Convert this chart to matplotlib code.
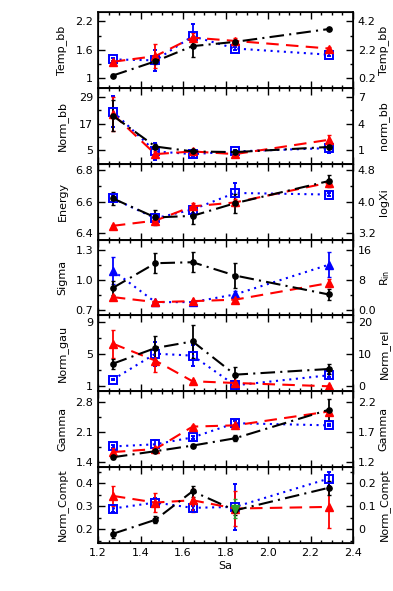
import matplotlib
matplotlib.use("Agg")
import matplotlib.pyplot as plt
from matplotlib.ticker import FixedLocator, AutoMinorLocator, MultipleLocator

plt.rcParams["font.family"] = ["DejaVu Sans"]
plt.rcParams["font.size"] = 8

sa = [1.27, 1.47, 1.645, 1.845, 2.285]

# Temp_bb
temp_black = [1.06, 1.36, 1.68, 1.77, 2.04]
temp_black_err = [0.03, 0.06, 0.22, 0.04, 0.03]
temp_red = [1.35, 1.47, 1.86, 1.79, 1.63]
temp_red_err = [0.03, 0.25, 0.10, 0.06, 0.03]
temp_blue = [1.40, 1.38, 1.89, 1.63, 1.50]
temp_blue_err = [0.03, 0.22, 0.25, 0.03, 0.03]

# Norm_bb
nbb_black = [20.5, 6.7, 4.5, 4.2, 6.5]
nbb_black_err = [7.0, 1.0, 0.5, 0.5, 1.0]
nbb_red = [21.2, 3.3, 4.5, 3.3, 9.7]
nbb_red_err = [7.5, 1.5, 0.8, 0.8, 2.0]
nbb_blue = [22.4, 4.5, 3.3, 4.5, 6.0]
nbb_blue_err = [7.0, 4.0, 0.8, 0.8, 2.0]

# Energy
en_black = [6.62, 6.50, 6.51, 6.59, 6.73]
en_black_err = [0.04, 0.05, 0.05, 0.06, 0.04]
en_red = [6.447, 6.48, 6.57, 6.595, 6.72]
en_red_err = [0.005, 0.02, 0.02, 0.02, 0.02]
en_blue = [6.62, 6.495, 6.55, 6.655, 6.645]
en_blue_err = [0.02, 0.02, 0.02, 0.06, 0.01]

# Sigma
sig_black = [0.92, 1.17, 1.18, 1.045, 0.853]
sig_black_err = [0.07, 0.10, 0.10, 0.13, 0.06]
sig_red = [0.826, 0.775, 0.785, 0.80, 0.968]
sig_red_err = [0.01, 0.01, 0.01, 0.01, 0.04]
sig_blue = [1.096, 0.775, 0.775, 0.853, 1.154]
sig_blue_err = [0.14, 0.01, 0.01, 0.03, 0.125]

# Norm_gau
ng_black = [3.82, 5.76, 6.58, 2.46, 3.16]
ng_black_err = [0.6, 1.45, 2.0, 0.93, 0.6]
ng_red = [6.3, 4.2, 1.64, 1.43, 1.02]
ng_red_err = [1.75, 1.45, 0.1, 0.3, 0.1]
ng_blue = [1.85, 5.06, 4.82, 1.14, 2.38]
ng_blue_err = [0.1, 1.5, 1.3, 0.2, 0.2]

# Gamma
gam_black = [1.52, 1.66, 1.79, 1.96, 2.62]
gam_black_err = [0.03, 0.03, 0.04, 0.07, 0.25]
gam_red = [1.64, 1.71, 2.23, 2.26, 2.58]
gam_red_err = [0.10, 0.04, 0.04, 0.04, 0.05]
gam_blue = [1.77, 1.82, 1.98, 2.31, 2.26]
gam_blue_err = [0.03, 0.10, 0.04, 0.04, 0.02]

# Norm_Compt
nc_black = [0.18, 0.241, 0.365, 0.282, 0.38]
nc_black_err = [0.02, 0.015, 0.025, 0.02, 0.03]
nc_red = [0.345, 0.316, 0.326, 0.29, 0.297]
nc_red_err = [0.045, 0.04, 0.05, 0.077, 0.09]
nc_blue = [0.29, 0.316, 0.293, 0.297, 0.42]
nc_blue_err = [0.015, 0.02, 0.01, 0.10, 0.03]
nc_green_x = [1.845]
nc_green = [0.29]
nc_green_err = [0.04]

# panel settings: left label, right label, ylim, left ticks, tick labels left / right
panels = [
    ("Temp_bb", "Temp_bb", (0.8, 2.4), [1.0, 1.6, 2.2], ["1", "1.6", "2.2"], ["0.2", "2.2", "4.2"],
     (temp_black, temp_black_err), (temp_red, temp_red_err), (temp_blue, temp_blue_err), "s"),
    ("Norm_bb", "norm_bb", (-1, 33), [5, 17, 29], ["5", "17", "29"], ["1", "4", "7"],
     (nbb_black, nbb_black_err), (nbb_red, nbb_red_err), (nbb_blue, nbb_blue_err), "s"),
    ("Energy", "logXi", (6.36, 6.84), [6.4, 6.6, 6.8], ["6.4", "6.6", "6.8"], ["3.2", "4.0", "4.8"],
     (en_black, en_black_err), (en_red, en_red_err), (en_blue, en_blue_err), "s"),
    ("Sigma", "R$_{\\rm in}$", (0.64, 1.41), [0.7, 1.0, 1.3], ["0.7", "1.0", "1.3"], ["0.0", "8", "16"],
     (sig_black, sig_black_err), (sig_red, sig_red_err), (sig_blue, sig_blue_err), "^"),
    ("Norm_gau", "Norm_rel", (0.4, 9.8), [1, 5, 9], ["1", "5", "9"], ["0", "10", "20"],
     (ng_black, ng_black_err), (ng_red, ng_red_err), (ng_blue, ng_blue_err), "s"),
    ("Gamma", "Gamma", (1.29, 3.05), [1.4, 2.1, 2.8], ["1.4", "2.1", "2.8"], ["1.2", "1.7", "2.2"],
     (gam_black, gam_black_err), (gam_red, gam_red_err), (gam_blue, gam_blue_err), "s"),
    ("Norm_Compt", "Norm_Compt", (0.14, 0.47), [0.2, 0.3, 0.4], ["0.2", "0.3", "0.4"], ["0", "0.1", "0.2"],
     (nc_black, nc_black_err), (nc_red, nc_red_err), (nc_blue, nc_blue_err), "s"),
]

fig = plt.figure(figsize=(3.93, 5.91), dpi=100)
left, right = 98 / 393, 353 / 393
top, bottom = 1 - 12 / 591, 1 - 543 / 591
h = (top - bottom) / len(panels)

for i, (lab, rlab, ylim, ticks, tlabs, rtlabs, blk, red, blu, bmark) in enumerate(panels):
    ax = fig.add_axes([left, top - (i + 1) * h, right - left, h])
    eb = dict(elinewidth=1.3, capsize=1.5, capthick=1.0)
    if bmark == "s":
        ax.errorbar(sa, blu[0], yerr=blu[1], color="blue", ls=(0, (1, 2.2)), lw=1.5,
                    marker="s", ms=5.5, mfc="none", mec="blue", mew=1.4, **eb)
    else:
        ax.errorbar(sa, blu[0], yerr=blu[1], color="blue", ls=(0, (1, 2.2)), lw=1.5,
                    marker="^", ms=6, mfc="blue", mec="blue", **eb)
    ax.errorbar(sa, red[0], yerr=red[1], color="red", ls=(0, (6, 3.5)), lw=1.5,
                marker="^", ms=6, mfc="red", mec="red", **eb)
    ax.errorbar(sa, blk[0], yerr=blk[1], color="black", ls=(0, (7, 2.5, 1, 2.5)), lw=1.5,
                marker="o", ms=3.8, mfc="black", mec="black", **eb)
    if i == len(panels) - 1:
        ax.errorbar(nc_green_x, nc_green, yerr=nc_green_err, color="#2ca02c", ls="none",
                    marker="v", ms=6, **eb)

    ax.set_xlim(1.2, 2.4)
    ax.set_ylim(*ylim)
    ax.yaxis.set_major_locator(FixedLocator(ticks))
    ax.set_yticklabels(tlabs)
    ax.yaxis.set_minor_locator(AutoMinorLocator(2))
    ax.xaxis.set_major_locator(MultipleLocator(0.2))
    ax.xaxis.set_minor_locator(MultipleLocator(0.05))
    ax.tick_params(which="both", direction="in", top=True, right=False, labelsize=8, width=1.0)
    ax.tick_params(which="major", length=5)
    ax.tick_params(which="minor", length=2.5)
    if i < len(panels) - 1:
        ax.tick_params(labelbottom=False)
    else:
        ax.set_xlabel("Sa", fontsize=8, labelpad=2)
    ax.set_ylabel(lab, fontsize=8)
    ax.yaxis.set_label_coords(-0.12, 0.5)
    for s in ax.spines.values():
        s.set_linewidth(1.2)

    # right axis: same tick positions, different labels
    ax2 = ax.twinx()
    ax2.set_ylim(*ylim)
    ax2.yaxis.set_major_locator(FixedLocator(ticks))
    ax2.set_yticklabels(rtlabs)
    ax2.yaxis.set_minor_locator(AutoMinorLocator(2))
    ax2.tick_params(which="both", direction="in", labelsize=8, width=1.0)
    ax2.tick_params(which="major", length=5)
    ax2.tick_params(which="minor", length=2.5)
    ax2.set_ylabel(rlab, fontsize=8)
    ax2.yaxis.set_label_coords(1.10, 0.5)

fig.savefig("out.png", dpi=100)
